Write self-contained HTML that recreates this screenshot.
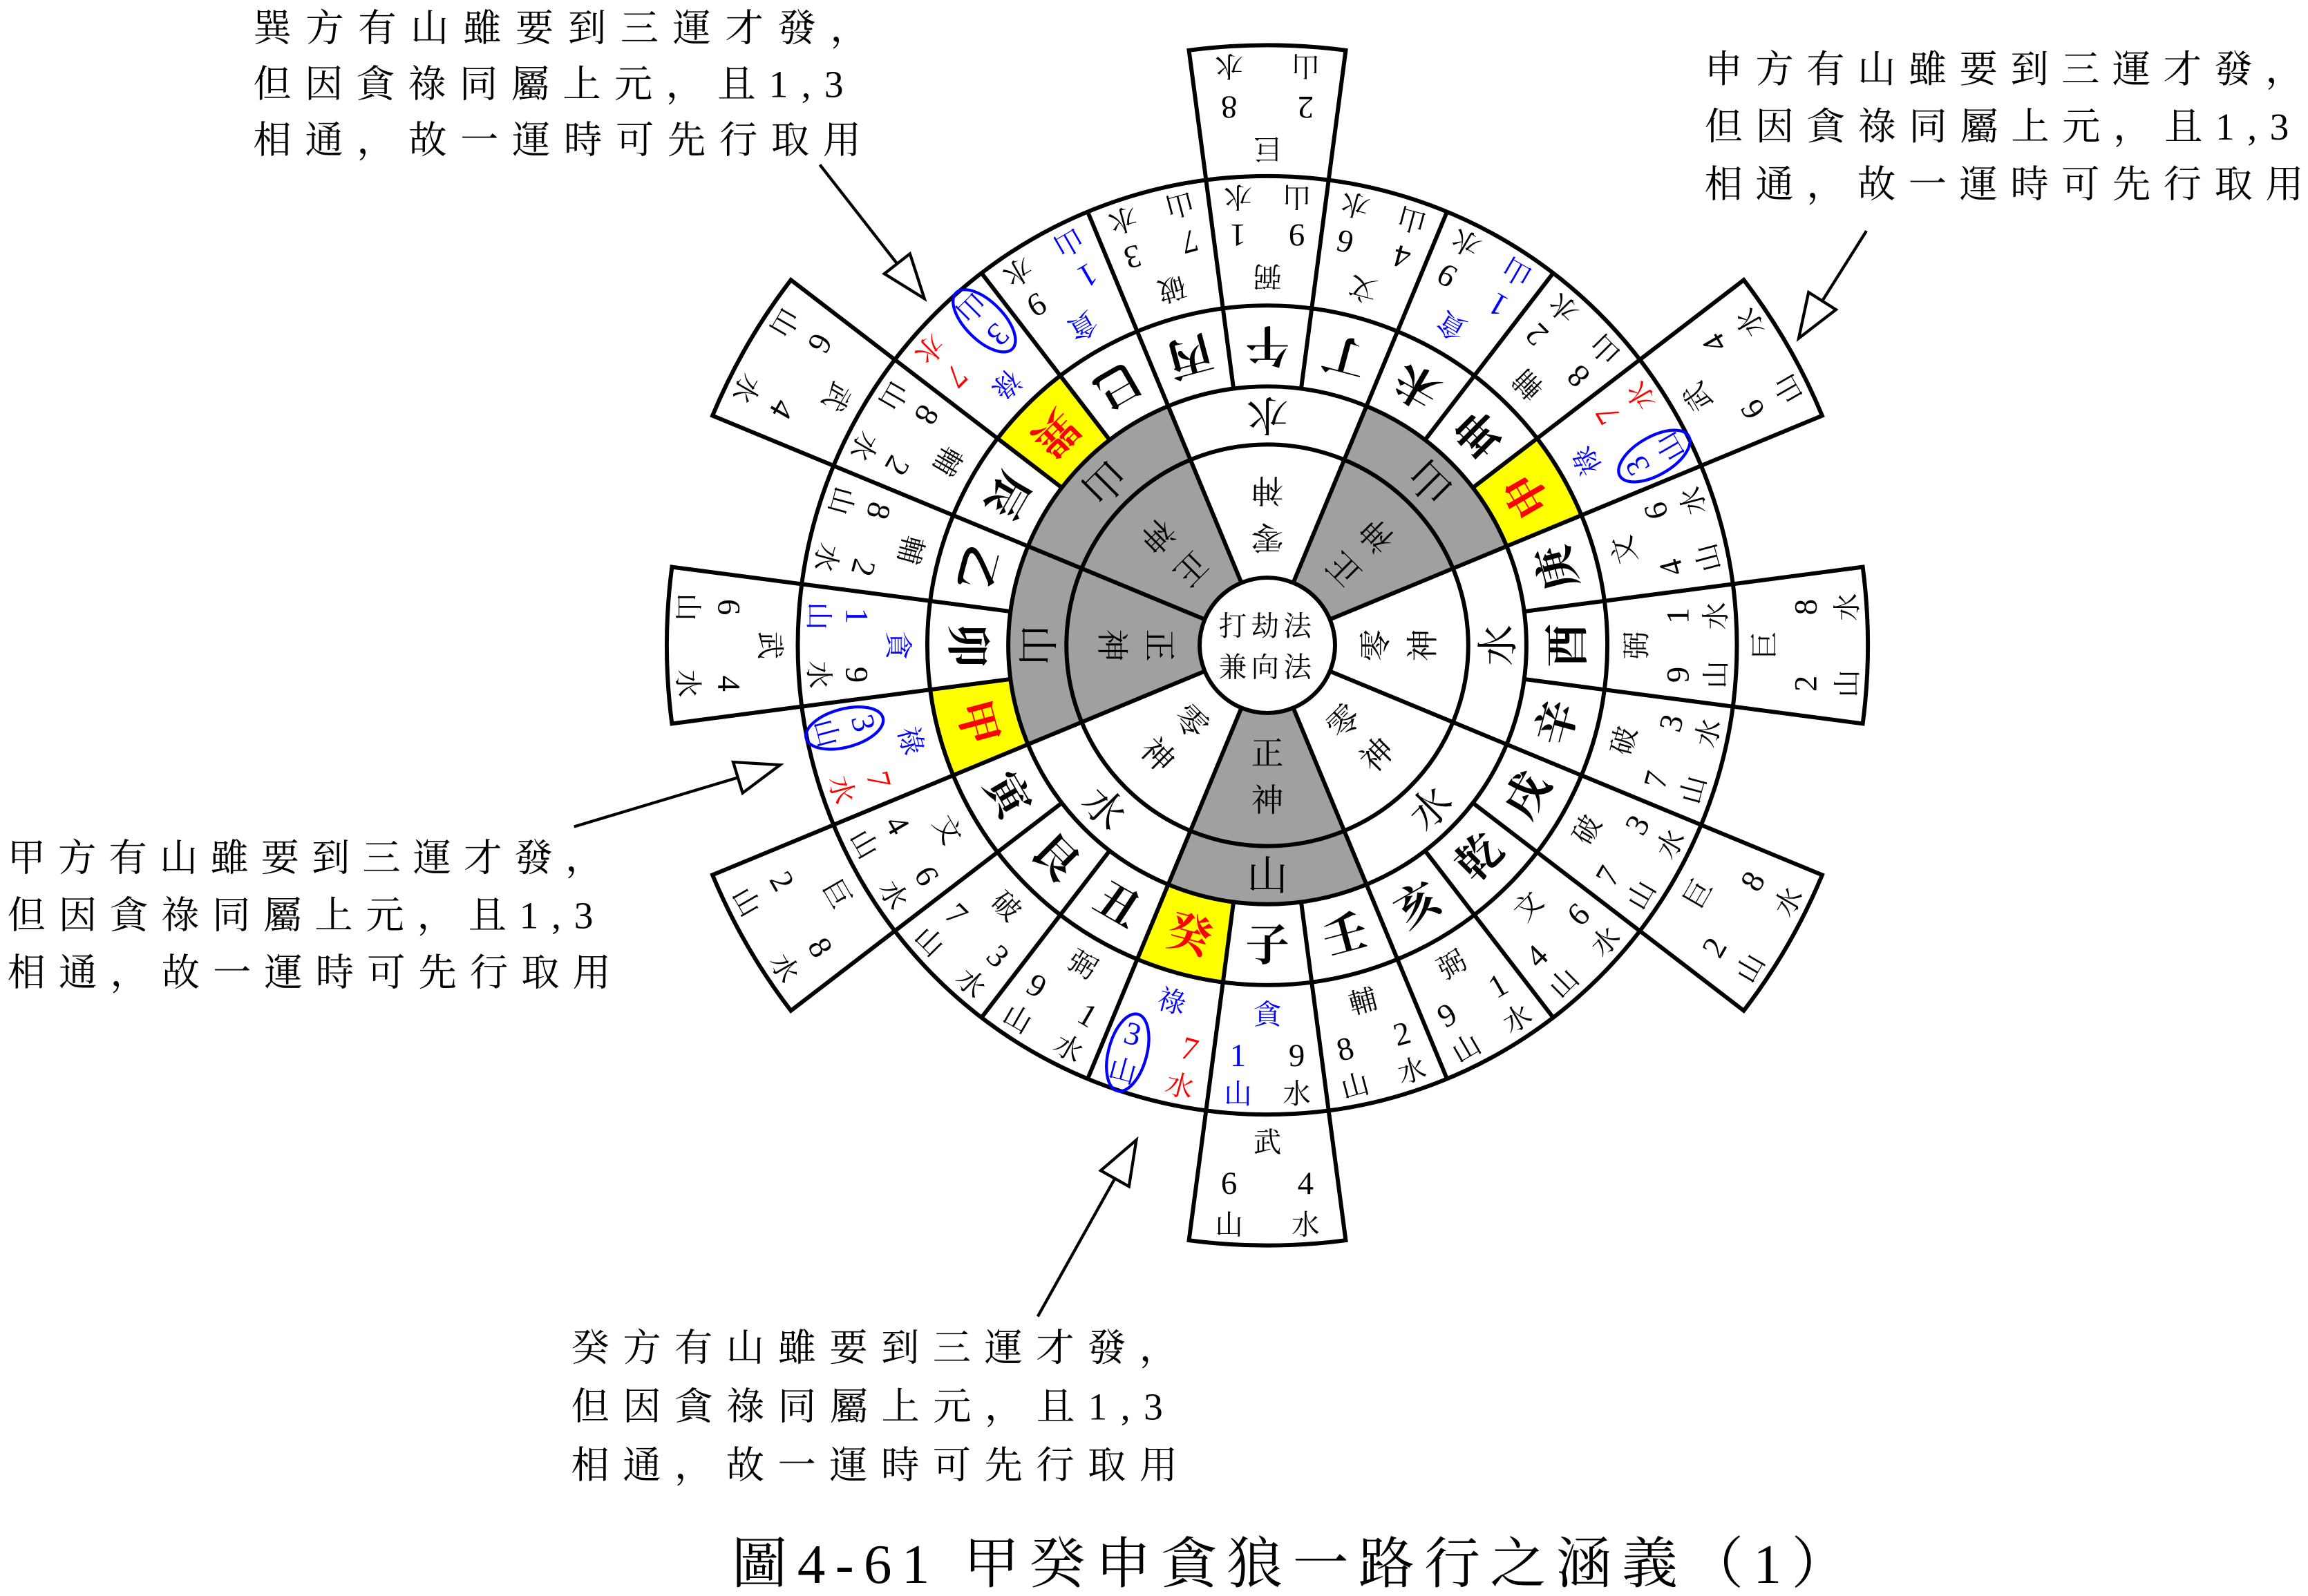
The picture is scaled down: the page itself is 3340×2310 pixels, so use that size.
<!DOCTYPE html>
<html><head><meta charset="utf-8"><style>
html,body{margin:0;padding:0;background:#fff;}
svg{display:block;}
text{font-family:"Liberation Serif","Noto Serif CJK SC","Noto Sans CJK TC",serif;fill:#000;}
.m{font-size:30px;font-weight:bold;}
.s{font-size:19px;}
.n{font-size:22px;}
.mid{font-size:28px;}
.inn{font-size:22px;}
.b{fill:#0000ff;}
.r{fill:#ff0000;}
.ann{font-size:26px;}
</style></head><body>
<svg width="3340" height="2310" viewBox="0 0 1568 1085" preserveAspectRatio="none" xmlns="http://www.w3.org/2000/svg">
<rect width="1568" height="1085" fill="#fff"/>
<g transform="translate(861,438.7)" text-anchor="middle" dominant-baseline="central">
<!-- boxes -->
<g fill="#fff" stroke="#000" stroke-width="2.8">
<path transform="rotate(180)" d="M -40.7 309.3 L -53.26 404.5 A 408 408 0 0 0 53.26 404.5 L 40.7 309.3 Z"/>
<path transform="rotate(240)" d="M -40.7 309.3 L -53.26 404.5 A 408 408 0 0 0 53.26 404.5 L 40.7 309.3 Z"/>
<path transform="rotate(270)" d="M -40.7 309.3 L -53.26 404.5 A 408 408 0 0 0 53.26 404.5 L 40.7 309.3 Z"/>
<path transform="rotate(300)" d="M -40.7 309.3 L -53.26 404.5 A 408 408 0 0 0 53.26 404.5 L 40.7 309.3 Z"/>
<path transform="rotate(0)" d="M -40.7 309.3 L -53.26 404.5 A 408 408 0 0 0 53.26 404.5 L 40.7 309.3 Z"/>
<path transform="rotate(60)" d="M -40.7 309.3 L -53.26 404.5 A 408 408 0 0 0 53.26 404.5 L 40.7 309.3 Z"/>
<path transform="rotate(90)" d="M -40.7 309.3 L -53.26 404.5 A 408 408 0 0 0 53.26 404.5 L 40.7 309.3 Z"/>
<path transform="rotate(120)" d="M -40.7 309.3 L -53.26 404.5 A 408 408 0 0 0 53.26 404.5 L 40.7 309.3 Z"/>
</g>
<circle r="319" fill="#fff" stroke="none"/>
<!-- gray wedges -->
<g fill="#a0a0a0">
<path transform="rotate(225)" d="M -17.6 42.5 L -67.35 162.6 A 176 176 0 0 0 67.35 162.6 L 17.6 42.5 A 46 46 0 0 1 -17.6 42.5 Z"/>
<path transform="rotate(360)" d="M -17.6 42.5 L -67.35 162.6 A 176 176 0 0 0 67.35 162.6 L 17.6 42.5 A 46 46 0 0 1 -17.6 42.5 Z"/>
<path transform="rotate(450)" d="M -17.6 42.5 L -67.35 162.6 A 176 176 0 0 0 67.35 162.6 L 17.6 42.5 A 46 46 0 0 1 -17.6 42.5 Z"/>
<path transform="rotate(495)" d="M -17.6 42.5 L -67.35 162.6 A 176 176 0 0 0 67.35 162.6 L 17.6 42.5 A 46 46 0 0 1 -17.6 42.5 Z"/>
</g>
<!-- yellow cells -->
<g fill="#ffff00">
<path transform="rotate(240)" d="M -22.97 174.5 L -30.15 229 A 231 231 0 0 0 30.15 229 L 22.97 174.5 A 176 176 0 0 1 -22.97 174.5 Z"/>
<path transform="rotate(375)" d="M -22.97 174.5 L -30.15 229 A 231 231 0 0 0 30.15 229 L 22.97 174.5 A 176 176 0 0 1 -22.97 174.5 Z"/>
<path transform="rotate(435)" d="M -22.97 174.5 L -30.15 229 A 231 231 0 0 0 30.15 229 L 22.97 174.5 A 176 176 0 0 1 -22.97 174.5 Z"/>
<path transform="rotate(495)" d="M -22.97 174.5 L -30.15 229 A 231 231 0 0 0 30.15 229 L 22.97 174.5 A 176 176 0 0 1 -22.97 174.5 Z"/>
</g>
<!-- circles -->
<g fill="none" stroke="#000" stroke-width="2.8">
<circle r="319"/><circle r="231"/><circle r="176"/><circle r="136.5"/>
<circle r="46" fill="#fff"/>
</g>
<!-- radial lines -->
<g stroke="#000" stroke-width="2.8">
<line transform="rotate(7.5)" x1="0" y1="176" x2="0" y2="319"/>
<line transform="rotate(22.5)" x1="0" y1="176" x2="0" y2="319"/>
<line transform="rotate(37.5)" x1="0" y1="176" x2="0" y2="319"/>
<line transform="rotate(52.5)" x1="0" y1="176" x2="0" y2="319"/>
<line transform="rotate(67.5)" x1="0" y1="176" x2="0" y2="319"/>
<line transform="rotate(82.5)" x1="0" y1="176" x2="0" y2="319"/>
<line transform="rotate(97.5)" x1="0" y1="176" x2="0" y2="319"/>
<line transform="rotate(112.5)" x1="0" y1="176" x2="0" y2="319"/>
<line transform="rotate(127.5)" x1="0" y1="176" x2="0" y2="319"/>
<line transform="rotate(142.5)" x1="0" y1="176" x2="0" y2="319"/>
<line transform="rotate(157.5)" x1="0" y1="176" x2="0" y2="319"/>
<line transform="rotate(172.5)" x1="0" y1="176" x2="0" y2="319"/>
<line transform="rotate(187.5)" x1="0" y1="176" x2="0" y2="319"/>
<line transform="rotate(202.5)" x1="0" y1="176" x2="0" y2="319"/>
<line transform="rotate(217.5)" x1="0" y1="176" x2="0" y2="319"/>
<line transform="rotate(232.5)" x1="0" y1="176" x2="0" y2="319"/>
<line transform="rotate(247.5)" x1="0" y1="176" x2="0" y2="319"/>
<line transform="rotate(262.5)" x1="0" y1="176" x2="0" y2="319"/>
<line transform="rotate(277.5)" x1="0" y1="176" x2="0" y2="319"/>
<line transform="rotate(292.5)" x1="0" y1="176" x2="0" y2="319"/>
<line transform="rotate(307.5)" x1="0" y1="176" x2="0" y2="319"/>
<line transform="rotate(322.5)" x1="0" y1="176" x2="0" y2="319"/>
<line transform="rotate(337.5)" x1="0" y1="176" x2="0" y2="319"/>
<line transform="rotate(352.5)" x1="0" y1="176" x2="0" y2="319"/>
<line transform="rotate(22.5)" x1="0" y1="46" x2="0" y2="176"/>
<line transform="rotate(67.5)" x1="0" y1="46" x2="0" y2="176"/>
<line transform="rotate(112.5)" x1="0" y1="46" x2="0" y2="176"/>
<line transform="rotate(157.5)" x1="0" y1="46" x2="0" y2="176"/>
<line transform="rotate(202.5)" x1="0" y1="46" x2="0" y2="176"/>
<line transform="rotate(247.5)" x1="0" y1="46" x2="0" y2="176"/>
<line transform="rotate(292.5)" x1="0" y1="46" x2="0" y2="176"/>
<line transform="rotate(337.5)" x1="0" y1="46" x2="0" y2="176"/>
</g>
<!-- center -->
<text x="0" y="-13" font-size="19" letter-spacing="3">打劫法</text>
<text x="0" y="15" font-size="19" letter-spacing="3">兼向法</text>
<!-- inner rings -->
<g transform="rotate(180)"><text class="inn" y="74">零</text><text class="inn" y="106">神</text><text class="mid" y="157">水</text></g>
<g transform="rotate(225)"><text class="inn" y="74">正</text><text class="inn" y="106">神</text><text class="mid" y="157">山</text></g>
<g transform="rotate(270)"><text class="inn" y="74">零</text><text class="inn" y="106">神</text><text class="mid" y="157">水</text></g>
<g transform="rotate(315)"><text class="inn" y="74">零</text><text class="inn" y="106">神</text><text class="mid" y="157">水</text></g>
<g transform="rotate(360)"><text class="inn" y="74">正</text><text class="inn" y="106">神</text><text class="mid" y="157">山</text></g>
<g transform="rotate(405)"><text class="inn" y="74">零</text><text class="inn" y="106">神</text><text class="mid" y="157">水</text></g>
<g transform="rotate(450)"><text class="inn" y="74">正</text><text class="inn" y="106">神</text><text class="mid" y="157">山</text></g>
<g transform="rotate(495)"><text class="inn" y="74">正</text><text class="inn" y="106">神</text><text class="mid" y="157">山</text></g>

<!-- box texts -->
<g transform="rotate(180)"><text class="s" y="338">巨</text><text class="n" x="-26" y="366">2</text><text class="n" x="26" y="366">8</text><text class="s" x="-26" y="394">山</text><text class="s" x="26" y="394">水</text></g>
<g transform="rotate(270)"><text class="s" y="338">巨</text><text class="n" x="-26" y="366">2</text><text class="n" x="26" y="366">8</text><text class="s" x="-26" y="394">山</text><text class="s" x="26" y="394">水</text></g>
<g transform="rotate(300)"><text class="s" y="338">巨</text><text class="n" x="-26" y="366">2</text><text class="n" x="26" y="366">8</text><text class="s" x="-26" y="394">山</text><text class="s" x="26" y="394">水</text></g>
<g transform="rotate(420)"><text class="s" y="338">巨</text><text class="n" x="-26" y="366">2</text><text class="n" x="26" y="366">8</text><text class="s" x="-26" y="394">山</text><text class="s" x="26" y="394">水</text></g>
<g transform="rotate(240)"><text class="s" y="338">武</text><text class="n" x="-26" y="366">6</text><text class="n" x="26" y="366">4</text><text class="s" x="-26" y="394">山</text><text class="s" x="26" y="394">水</text></g>
<g transform="rotate(360)"><text class="s" y="338">武</text><text class="n" x="-26" y="366">6</text><text class="n" x="26" y="366">4</text><text class="s" x="-26" y="394">山</text><text class="s" x="26" y="394">水</text></g>
<g transform="rotate(450)"><text class="s" y="338">武</text><text class="n" x="-26" y="366">6</text><text class="n" x="26" y="366">4</text><text class="s" x="-26" y="394">山</text><text class="s" x="26" y="394">水</text></g>
<g transform="rotate(480)"><text class="s" y="338">武</text><text class="n" x="-26" y="366">6</text><text class="n" x="26" y="366">4</text><text class="s" x="-26" y="394">山</text><text class="s" x="26" y="394">水</text></g>

<!-- 24 sectors -->
<g transform="rotate(180)"><text class="m" y="204">午</text><text class="s" y="251">弼</text><text class="n" x="-20" y="279">9</text><text class="n" x="20" y="279">1</text><text class="s" x="-20" y="305">山</text><text class="s" x="20" y="305">水</text></g>
<g transform="rotate(195)"><text class="m" y="204">丁</text><text class="s" y="251">文</text><text class="n" x="-20" y="279">4</text><text class="n" x="20" y="279">6</text><text class="s" x="-20" y="305">山</text><text class="s" x="20" y="305">水</text></g>
<g transform="rotate(210)"><text class="m" y="204">未</text><text class="s b" y="251">貪</text><text class="n b" x="-20" y="279">1</text><text class="n" x="20" y="279">9</text><text class="s b" x="-20" y="305">山</text><text class="s" x="20" y="305">水</text></g>
<g transform="rotate(225)"><text class="m" y="204">坤</text><text class="s" y="251">輔</text><text class="n" x="-20" y="279">8</text><text class="n" x="20" y="279">2</text><text class="s" x="-20" y="305">山</text><text class="s" x="20" y="305">水</text></g>
<g transform="rotate(240)"><text class="m r" y="204">申</text><text class="s b" y="251">祿</text><text class="n b" x="-20" y="279">3</text><text class="n r" x="20" y="279">7</text><text class="s b" x="-20" y="305">山</text><text class="s r" x="20" y="305">水</text><ellipse cx="-20" cy="292" rx="13" ry="27" fill="none" stroke="#0000ff" stroke-width="2"/></g>
<g transform="rotate(255)"><text class="m" y="204">庚</text><text class="s" y="251">文</text><text class="n" x="-20" y="279">4</text><text class="n" x="20" y="279">6</text><text class="s" x="-20" y="305">山</text><text class="s" x="20" y="305">水</text></g>
<g transform="rotate(270)"><text class="m" y="204">酉</text><text class="s" y="251">弼</text><text class="n" x="-20" y="279">9</text><text class="n" x="20" y="279">1</text><text class="s" x="-20" y="305">山</text><text class="s" x="20" y="305">水</text></g>
<g transform="rotate(285)"><text class="m" y="204">辛</text><text class="s" y="251">破</text><text class="n" x="-20" y="279">7</text><text class="n" x="20" y="279">3</text><text class="s" x="-20" y="305">山</text><text class="s" x="20" y="305">水</text></g>
<g transform="rotate(300)"><text class="m" y="204">戌</text><text class="s" y="251">破</text><text class="n" x="-20" y="279">7</text><text class="n" x="20" y="279">3</text><text class="s" x="-20" y="305">山</text><text class="s" x="20" y="305">水</text></g>
<g transform="rotate(315)"><text class="m" y="204">乾</text><text class="s" y="251">文</text><text class="n" x="-20" y="279">4</text><text class="n" x="20" y="279">6</text><text class="s" x="-20" y="305">山</text><text class="s" x="20" y="305">水</text></g>
<g transform="rotate(330)"><text class="m" y="204">亥</text><text class="s" y="251">弼</text><text class="n" x="-20" y="279">9</text><text class="n" x="20" y="279">1</text><text class="s" x="-20" y="305">山</text><text class="s" x="20" y="305">水</text></g>
<g transform="rotate(345)"><text class="m" y="204">壬</text><text class="s" y="251">輔</text><text class="n" x="-20" y="279">8</text><text class="n" x="20" y="279">2</text><text class="s" x="-20" y="305">山</text><text class="s" x="20" y="305">水</text></g>
<g transform="rotate(360)"><text class="m" y="204">子</text><text class="s b" y="251">貪</text><text class="n b" x="-20" y="279">1</text><text class="n" x="20" y="279">9</text><text class="s b" x="-20" y="305">山</text><text class="s" x="20" y="305">水</text></g>
<g transform="rotate(375)"><text class="m r" y="204">癸</text><text class="s b" y="251">祿</text><text class="n b" x="-20" y="279">3</text><text class="n r" x="20" y="279">7</text><text class="s b" x="-20" y="305">山</text><text class="s r" x="20" y="305">水</text><ellipse cx="-20" cy="292" rx="13" ry="27" fill="none" stroke="#0000ff" stroke-width="2"/></g>
<g transform="rotate(390)"><text class="m" y="204">丑</text><text class="s" y="251">弼</text><text class="n" x="-20" y="279">9</text><text class="n" x="20" y="279">1</text><text class="s" x="-20" y="305">山</text><text class="s" x="20" y="305">水</text></g>
<g transform="rotate(405)"><text class="m" y="204">艮</text><text class="s" y="251">破</text><text class="n" x="-20" y="279">7</text><text class="n" x="20" y="279">3</text><text class="s" x="-20" y="305">山</text><text class="s" x="20" y="305">水</text></g>
<g transform="rotate(420)"><text class="m" y="204">寅</text><text class="s" y="251">文</text><text class="n" x="-20" y="279">4</text><text class="n" x="20" y="279">6</text><text class="s" x="-20" y="305">山</text><text class="s" x="20" y="305">水</text></g>
<g transform="rotate(435)"><text class="m r" y="204">甲</text><text class="s b" y="251">祿</text><text class="n b" x="-20" y="279">3</text><text class="n r" x="20" y="279">7</text><text class="s b" x="-20" y="305">山</text><text class="s r" x="20" y="305">水</text><ellipse cx="-20" cy="292" rx="13" ry="27" fill="none" stroke="#0000ff" stroke-width="2"/></g>
<g transform="rotate(450)"><text class="m" y="204">卯</text><text class="s b" y="251">貪</text><text class="n b" x="-20" y="279">1</text><text class="n" x="20" y="279">9</text><text class="s b" x="-20" y="305">山</text><text class="s" x="20" y="305">水</text></g>
<g transform="rotate(465)"><text class="m" y="204">乙</text><text class="s" y="251">輔</text><text class="n" x="-20" y="279">8</text><text class="n" x="20" y="279">2</text><text class="s" x="-20" y="305">山</text><text class="s" x="20" y="305">水</text></g>
<g transform="rotate(480)"><text class="m" y="204">辰</text><text class="s" y="251">輔</text><text class="n" x="-20" y="279">8</text><text class="n" x="20" y="279">2</text><text class="s" x="-20" y="305">山</text><text class="s" x="20" y="305">水</text></g>
<g transform="rotate(495)"><text class="m r" y="204">巽</text><text class="s b" y="251">祿</text><text class="n b" x="-20" y="279">3</text><text class="n r" x="20" y="279">7</text><text class="s b" x="-20" y="305">山</text><text class="s r" x="20" y="305">水</text><ellipse cx="-20" cy="292" rx="13" ry="27" fill="none" stroke="#0000ff" stroke-width="2"/></g>
<g transform="rotate(510)"><text class="m" y="204">巳</text><text class="s b" y="251">貪</text><text class="n b" x="-20" y="279">1</text><text class="n" x="20" y="279">9</text><text class="s b" x="-20" y="305">山</text><text class="s" x="20" y="305">水</text></g>
<g transform="rotate(525)"><text class="m" y="204">丙</text><text class="s" y="251">破</text><text class="n" x="-20" y="279">7</text><text class="n" x="20" y="279">3</text><text class="s" x="-20" y="305">山</text><text class="s" x="20" y="305">水</text></g>
</g>

<!-- arrows -->
<g stroke="#000" stroke-width="2" fill="#fff">
<line x1="557" y1="112" x2="609.5" y2="179.3"/>
<polygon points="628,203 600.8,186.1 618.2,172.5"/>
<line x1="1268" y1="157" x2="1238" y2="204.6"/>
<polygon points="1222,230 1247.3,210.5 1228.7,198.7"/>
<line x1="390" y1="562" x2="501.3" y2="528.6"/>
<polygon points="530,520 504.5,539.1 498.1,518.1"/>
<line x1="705" y1="895" x2="757.4" y2="801.2"/>
<polygon points="772,775 767,806.6 747.8,795.8"/>
</g>

<!-- annotations -->
<g class="ann">
<text class="ann" x="172" y="28" textLength="418" lengthAdjust="spacing">巽方有山雖要到三運才發，</text>
<text class="ann" x="172" y="66" textLength="401" lengthAdjust="spacing">但因貪祿同屬上元，且1,3</text>
<text class="ann" x="172" y="104" textLength="413" lengthAdjust="spacing">相通，故一運時可先行取用</text>

<text class="ann" x="1158" y="56" textLength="407" lengthAdjust="spacing">申方有山雖要到三運才發，</text>
<text class="ann" x="1158" y="95" textLength="397" lengthAdjust="spacing">但因貪祿同屬上元，且1,3</text>
<text class="ann" x="1158" y="134" textLength="407" lengthAdjust="spacing">相通，故一運時可先行取用</text>

<text class="ann" x="5" y="592" textLength="405" lengthAdjust="spacing">甲方有山雖要到三運才發，</text>
<text class="ann" x="5" y="631" textLength="398" lengthAdjust="spacing">但因貪祿同屬上元，且1,3</text>
<text class="ann" x="5" y="670" textLength="410" lengthAdjust="spacing">相通，故一運時可先行取用</text>

<text class="ann" x="388" y="925" textLength="412" lengthAdjust="spacing">癸方有山雖要到三運才發，</text>
<text class="ann" x="388" y="965" textLength="402" lengthAdjust="spacing">但因貪祿同屬上元，且1,3</text>
<text class="ann" x="388" y="1005" textLength="412" lengthAdjust="spacing">相通，故一運時可先行取用</text>
</g>
<text x="497" y="1076" font-size="38" textLength="758" lengthAdjust="spacing">圖4-61 甲癸申貪狼一路行之涵義（1）</text>
</svg>
</body></html>
